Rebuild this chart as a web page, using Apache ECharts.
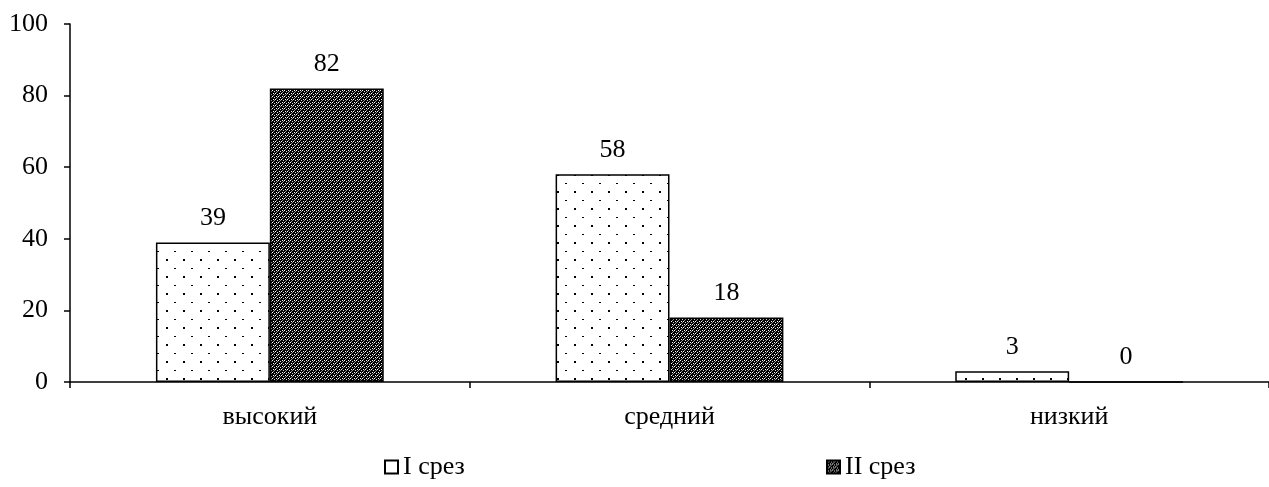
<!DOCTYPE html>
<html><head><meta charset="utf-8">
<script src="https://cdn.jsdelivr.net/npm/echarts@6/dist/echarts.min.js"></script>
<style>html,body{margin:0;padding:0;background:#fff}#c{width:1269px;height:487px}</style>
</head><body><div id="c"></div>
<script>
const categories = ['высокий', 'средний', 'низкий'];
const seriesNames = ['I срез', 'II срез'];
const values1 = [39, 58, 3];
const values2 = [82, 18, 0];
const yTicks = [0, 20, 40, 60, 80, 100];

function dotPattern() {
  const c = document.createElement('canvas');
  c.width = 17; c.height = 17;
  const g = c.getContext('2d');
  g.fillStyle = '#fff'; g.fillRect(0, 0, 17, 17);
  g.fillStyle = '#000';
  g.fillRect(13, 4, 2, 2);
  g.fillRect(4, 13, 2, 1);
  return c;
}
function darkPattern() {
  const c = document.createElement('canvas');
  c.width = 6; c.height = 6;
  const g = c.getContext('2d');
  g.fillStyle = '#000'; g.fillRect(0, 0, 6, 6);
  g.fillStyle = '#fff';
  g.fillRect(0, 0, 1, 1); g.fillRect(3, 3, 1, 1);
  g.fillRect(2, 0, 1, 1); g.fillRect(5, 3, 1, 1);
  g.fillStyle = '#999';
  g.fillRect(1, 1, 1, 1); g.fillRect(4, 4, 1, 1);
  g.fillRect(0, 2, 1, 1); g.fillRect(3, 5, 1, 1);
  g.fillStyle = '#ddd';
  g.fillRect(4, 1, 1, 1); g.fillRect(1, 4, 1, 1);
  return c;
}

const font = 'Liberation Serif';
const fs = 26;
const legendBase = { icon: 'rect', itemWidth: 13, itemHeight: 13, itemGap: 5, padding: 0, top: 454,
  textStyle: { fontFamily: font, fontSize: fs, color: '#000' } };
const chart = echarts.init(document.getElementById('c'));
chart.setOption({
  animation: false,
  textStyle: { fontFamily: font, color: '#000' },
  grid: { left: 70, right: 0, top: 24, bottom: 105 },
  legend: [
    Object.assign({}, legendBase, { data: [seriesNames[0]], left: 384 }),
    Object.assign({}, legendBase, { data: [seriesNames[1]], left: 826 })
  ],
  xAxis: {
    type: 'category', data: categories,
    axisLine: { lineStyle: { color: '#000', width: 1.5 } },
    axisTick: { show: true, length: 6, lineStyle: { color: '#000', width: 1.5 } },
    axisLabel: { color: '#000', fontFamily: font, fontSize: fs, margin: 22 }
  },
  yAxis: {
    type: 'value', min: yTicks[0], max: yTicks[yTicks.length - 1], interval: 20,
    splitLine: { show: false },
    axisLine: { show: true, lineStyle: { color: '#000', width: 1.5 } },
    axisTick: { show: true, length: 6, lineStyle: { color: '#000', width: 1.5 } },
    axisLabel: { color: '#000', fontFamily: font, fontSize: fs, margin: 22 }
  },
  series: [
    { name: seriesNames[0], type: 'bar', data: values1, barGap: '0%', barCategoryGap: '43%',
      itemStyle: { color: { image: dotPattern(), repeat: 'repeat' }, borderColor: '#000', borderWidth: 1.5 },
      label: { show: true, position: 'top', distance: 11, color: '#000', fontFamily: font, fontSize: fs } },
    { name: seriesNames[1], type: 'bar', data: values2,
      itemStyle: { color: { image: darkPattern(), repeat: 'repeat' }, borderColor: '#000', borderWidth: 1.5 },
      label: { show: true, position: 'top', distance: 11, color: '#000', fontFamily: font, fontSize: fs } }
  ]
});
</script></body></html>
